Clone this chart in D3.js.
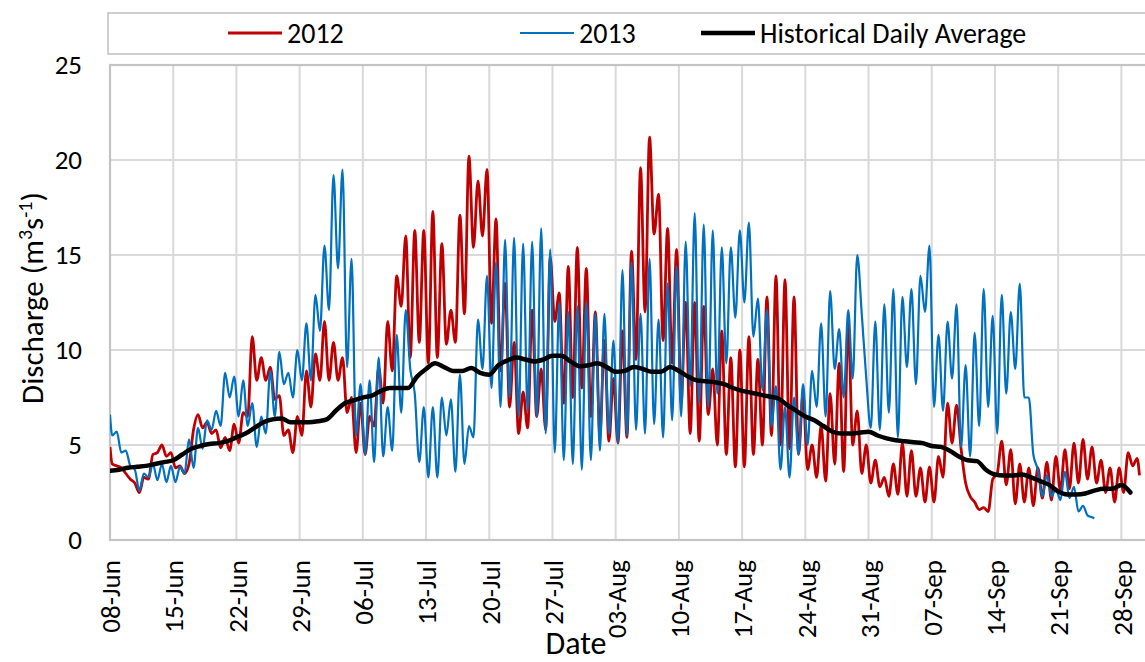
<!DOCTYPE html>
<html>
<head>
<meta charset="utf-8">
<script src="https://cdn.jsdelivr.net/npm/d3@7"></script>
<style>
  html, body { margin: 0; padding: 0; background: #fff; }
  svg { display: block; font-family: Carlito, Lato, "Open Sans", sans-serif; }
</style>
</head>
<body>
<svg id="chart" width="1145" height="662"></svg>
<script>
// ---- data ---------------------------------------------------------------
// Discharge (m3/s), two readings per day (06:00 and 18:00), day 0 = 08-Jun
const seriesNames = ["2012", "2013", "Historical Daily Average"];

const first2012 = 4.9, lastDay2012 = 114, last2012 = 3.4;
const am2012 = [4.0,3.8,3.2,2.5,3.2,4.6,4.4,3.8,3.5,5.8, 5.9,5.6,4.85,4.7,5.1,6.5,8.4,8.4,7.4,5.5,
  4.6,5.5,7.0,8.4,8.4,8.4,6.7,4.6,4.5,6.0, 7.2,8.9,12.3,9.6,10.4,9.3,9.6,10.3,10.4,11.9,
  15.4,16.0,11.4,8.9,7.0,5.6,5.9,6.5,5.8,11.5, 7.2,7.5,8.0,6.5,5.5,5.2,5.1,5.4,9.5,12.0,
  16.1,10.5,9.3,7.2,5.6,5.2,6.6,5.0,4.5,3.85, 3.85,4.5,5.0,5.5,5.0,4.8,4.5,3.7,3.3,3.1,
  4.0,3.6,5.0,3.5,3.0,2.8,2.3,2.4,2.3,2.3, 2.0,2.0,3.3,5.1,4.8,2.3,1.6,1.5,3.5,2.9,
  1.9,2.0,1.8,2.2,2.1,2.6,2.7,3.0,3.2,3.0, 2.5,2.0,2.5,3.9];
const pm2012 = [3.9,3.5,3.0,3.3,4.5,5.0,4.6,3.9,4.0,6.6, 6.2,5.8,5.4,6.1,6.7,10.7,9.6,9.1,7.6,5.8,
  6.5,8.9,9.8,11.5,10.4,9.6,7.5,7.2,6.5,9.1, 11.5,13.9,16.0,16.3,16.3,17.3,15.6,12.1,17.1,20.2,
  18.9,19.5,16.9,13.5,10.4,7.8,12.1,9.0,14.9,13.0, 14.4,15.4,14.3,12.0,10.5,8.5,11.0,15.2,19.6,21.2,
  18.2,16.4,15.3,12.5,12.5,12.3,9.0,11.0,9.6,10.0, 10.7,9.5,12.8,13.9,13.7,12.8,7.7,5.0,6.0,7.7,
  9.3,11.4,6.8,5.0,4.2,3.3,4.0,5.1,4.7,3.8, 3.85,4.4,7.2,7.1,3.0,2.0,1.7,3.2,5.2,4.75,
  4.0,3.8,3.8,4.1,4.4,4.75,5.1,5.3,4.9,4.2, 3.8,3.8,4.6,4.3];

const first2013 = 6.6, lastDay2013 = 109, last2013 = 1.15;
const am2013 = [5.5,4.6,3.9,2.6,3.3,3.15,3.05,3.05,3.5,3.8, 4.8,5.8,6.0,7.5,6.5,6.0,4.9,5.6,6.5,8.2,
  7.5,8.4,8.4,11.0,12.1,14.3,9.1,5.5,4.5,4.1, 4.4,4.7,6.7,9.0,4.1,3.3,3.3,5.5,3.6,4.0,
  5.4,9.0,8.0,7.0,7.5,6.5,6.8,6.5,5.6,4.6, 4.2,4.0,3.7,4.2,4.7,5.6,5.1,5.5,5.8,5.6,
  6.1,5.4,6.3,6.5,8.1,7.2,7.0,7.7,9.3,11.7, 12.5,10.7,7.9,6.0,3.7,3.3,4.5,5.0,7.0,6.5,
  9.0,7.5,8.5,11.9,5.9,5.8,6.7,5.4,9.1,8.2, 12.0,7.0,6.8,8.5,4.9,4.4,6.0,7.0,5.6,7.7,
  9.0,7.5,4.5,2.3,2.3,2.1,2.2,1.5,1.3];
const pm2013 = [5.7,4.7,3.7,3.5,4.0,4.0,3.9,3.85,5.3,5.9, 6.3,6.8,8.8,8.6,8.4,7.2,6.5,8.9,9.9,8.8,
  10.0,11.4,12.9,15.5,19.2,19.5,14.8,8.2,8.4,9.6, 7.0,10.8,12.1,7.7,7.0,7.0,7.5,7.4,8.7,6.0,
  11.6,13.9,14.6,15.8,15.9,15.6,15.7,16.4,15.3,12.5, 12.0,12.3,12.5,11.9,11.9,10.5,14.2,14.6,11.9,14.8,
  11.6,13.5,14.4,15.7,17.2,16.6,16.3,15.4,15.4,16.3, 16.7,12.7,12.1,8.1,7.0,7.5,8.2,8.9,11.4,13.1,
  11.1,12.1,15.0,8.5,11.5,12.4,13.2,12.8,13.2,13.9, 15.5,10.8,11.5,12.4,9.2,10.9,13.2,11.8,12.9,12.0,
  13.5,7.5,3.7,3.4,2.7,3.6,2.8,1.8,1.2];

// Historical daily average, one value per day from 08-Jun
const histAvg = [3.65,3.7,3.8,3.85,3.9,4.0,4.1,4.2,4.5,4.8, 4.95,5.05,5.1,5.2,5.4,5.6,5.9,6.2,6.35,6.4,
  6.2,6.2,6.2,6.25,6.35,6.8,7.2,7.35,7.5,7.6, 7.85,8.0,8.0,8.0,8.6,9.0,9.3,9.1,8.9,8.9,
  9.05,8.8,8.7,9.2,9.45,9.6,9.5,9.4,9.5,9.7, 9.7,9.4,9.15,9.2,9.3,9.1,8.85,8.9,9.1,9.0,
  8.85,8.85,9.1,8.9,8.6,8.4,8.35,8.3,8.2,8.0, 7.85,7.75,7.65,7.55,7.45,7.1,6.8,6.5,6.3,6.0,
  5.7,5.6,5.6,5.65,5.7,5.5,5.35,5.25,5.2,5.15, 5.1,4.95,4.9,4.7,4.4,4.2,4.15,3.7,3.45,3.4,
  3.4,3.45,3.3,3.1,2.9,2.55,2.4,2.4,2.45,2.6, 2.7,2.7,2.9,2.5];

const tickLabels = ["08-Jun","15-Jun","22-Jun","29-Jun","06-Jul","13-Jul","20-Jul","27-Jul",
  "03-Aug","10-Aug","17-Aug","24-Aug","31-Aug","07-Sep","14-Sep","21-Sep","28-Sep"];
const yTicks = [0, 5, 10, 15, 20, 25];
const startLabel = "08-Jun", endLabel = "02-Oct";

// ---- layout -------------------------------------------------------------
const svg = d3.select("#chart");
const plot = { left: 110, top: 65, bottom: 540, right: 1157.5 };
const parseDay = d3.timeParse("%d-%b");
const t0 = parseDay(startLabel);
const FONT = "Carlito, Lato, sans-serif";

const x = d3.scaleTime().domain([t0, parseDay(endLabel)]).range([plot.left, plot.right]);
const y = d3.scaleLinear().domain([0, 25]).range([plot.bottom, plot.top]);

const at = (dayFloat) => d3.timeMinute.offset(t0, Math.round(dayFloat * 1440));

function buildSeries(first, am, pm, lastDay, last) {
  const pts = [{ t: at(0), v: first }];
  am.forEach((a, d) => {
    pts.push({ t: at(d + 0.25), v: a });
    pts.push({ t: at(d + 0.75), v: pm[d] });
  });
  pts.push({ t: at(lastDay), v: last });
  return pts;
}

const s2012 = buildSeries(first2012, am2012, pm2012, lastDay2012, last2012);
const s2013 = buildSeries(first2013, am2013, pm2013, lastDay2013, last2013);
const sHist = histAvg.map((v, d) => ({ t: at(d), v }));

const gridColor = "#d9d9d9", axisColor = "#c4c4c4";

// gridlines
const tickDates = tickLabels.map(parseDay);
svg.append("g").selectAll("line").data(tickDates).join("line")
  .attr("x1", d => x(d)).attr("x2", d => x(d))
  .attr("y1", plot.top).attr("y2", plot.bottom)
  .attr("stroke", gridColor).attr("stroke-width", 2);
svg.append("g").selectAll("line").data(yTicks).join("line")
  .attr("x1", plot.left).attr("x2", plot.right)
  .attr("y1", d => y(d)).attr("y2", d => y(d))
  .attr("stroke", gridColor).attr("stroke-width", 2);

// plot frame
svg.append("rect")
  .attr("x", plot.left).attr("y", plot.top)
  .attr("width", plot.right - plot.left).attr("height", plot.bottom - plot.top)
  .attr("fill", "none").attr("stroke", axisColor).attr("stroke-width", 2.2);

// axes
const yAxis = d3.axisLeft(y).tickValues(yTicks).tickSize(0).tickPadding(28);
svg.append("g").attr("transform", `translate(${plot.left},0)`).call(yAxis)
  .call(g => g.select(".domain").remove())
  .call(g => g.selectAll("text").attr("font-size", 27).attr("fill", "#000")
    .attr("font-family", FONT));

const xAxis = d3.axisBottom(x).tickValues(tickDates).tickSize(0)
  .tickFormat((d, i) => tickLabels[i]);
svg.append("g").attr("transform", `translate(0,${plot.bottom})`).call(xAxis)
  .call(g => g.select(".domain").remove())
  .call(g => g.selectAll("text")
    .attr("font-size", 27).attr("fill", "#000")
    .attr("font-family", FONT)
    .attr("text-anchor", "end")
    .attr("transform", "rotate(-90)")
    .attr("x", -20).attr("y", 0).attr("dy", "0.36em"));

// series
svg.append("clipPath").attr("id", "plotClip").append("rect")
  .attr("x", plot.left).attr("y", plot.top)
  .attr("width", plot.right - plot.left).attr("height", plot.bottom - plot.top);

const lineWavy = d3.line().x(d => x(d.t)).y(d => y(d.v)).curve(d3.curveMonotoneX);
const lineAvg = d3.line().x(d => x(d.t)).y(d => y(d.v)).curve(d3.curveMonotoneX);

const g = svg.append("g").attr("clip-path", "url(#plotClip)");
g.append("path").datum(s2012).attr("d", lineWavy)
  .attr("fill", "none").attr("stroke", "#c00000").attr("stroke-width", 2.8)
  .attr("stroke-linejoin", "round");
g.append("path").datum(s2013).attr("d", lineWavy)
  .attr("fill", "none").attr("stroke", "#0070c0").attr("stroke-width", 2.2)
  .attr("stroke-linejoin", "round");
g.append("path").datum(sHist).attr("d", lineAvg)
  .attr("fill", "none").attr("stroke", "#000").attr("stroke-width", 4.5)
  .attr("stroke-linejoin", "round").attr("stroke-linecap", "round");

// legend
svg.append("rect").attr("x", 108).attr("y", 13).attr("width", 1100).attr("height", 41)
  .attr("fill", "none").attr("stroke", axisColor).attr("stroke-width", 1.6);
const legendItems = [
  { name: seriesNames[0], color: "#c00000", w: 2.8, x: 228 },
  { name: seriesNames[1], color: "#0070c0", w: 2.2, x: 520 },
  { name: seriesNames[2], color: "#000", w: 4.5, x: 701 }
];
const lg = svg.append("g").selectAll("g").data(legendItems).join("g")
  .attr("transform", d => `translate(${d.x},33)`);
lg.append("line").attr("x1", 0).attr("x2", 54).attr("y1", 0).attr("y2", 0)
  .attr("stroke", d => d.color).attr("stroke-width", d => d.w);
lg.append("text").attr("x", 59).attr("y", 10).attr("font-size", 28).attr("fill", "#000")
  .text(d => d.name);

// axis titles
svg.append("text").attr("x", 576).attr("y", 654).attr("text-anchor", "middle")
  .attr("font-size", 32).attr("fill", "#000").text("Date");

const yt = svg.append("text").attr("transform", "translate(43,298) rotate(-90)")
  .attr("text-anchor", "middle").attr("font-size", 31).attr("fill", "#000");
yt.append("tspan").text("Discharge (m");
yt.append("tspan").attr("dy", -11).attr("font-size", 20).text("3");
yt.append("tspan").attr("dy", 11).text("s");
yt.append("tspan").attr("dy", -11).attr("font-size", 20).text("-1");
yt.append("tspan").attr("dy", 11).text(")");
</script>
</body>
</html>
